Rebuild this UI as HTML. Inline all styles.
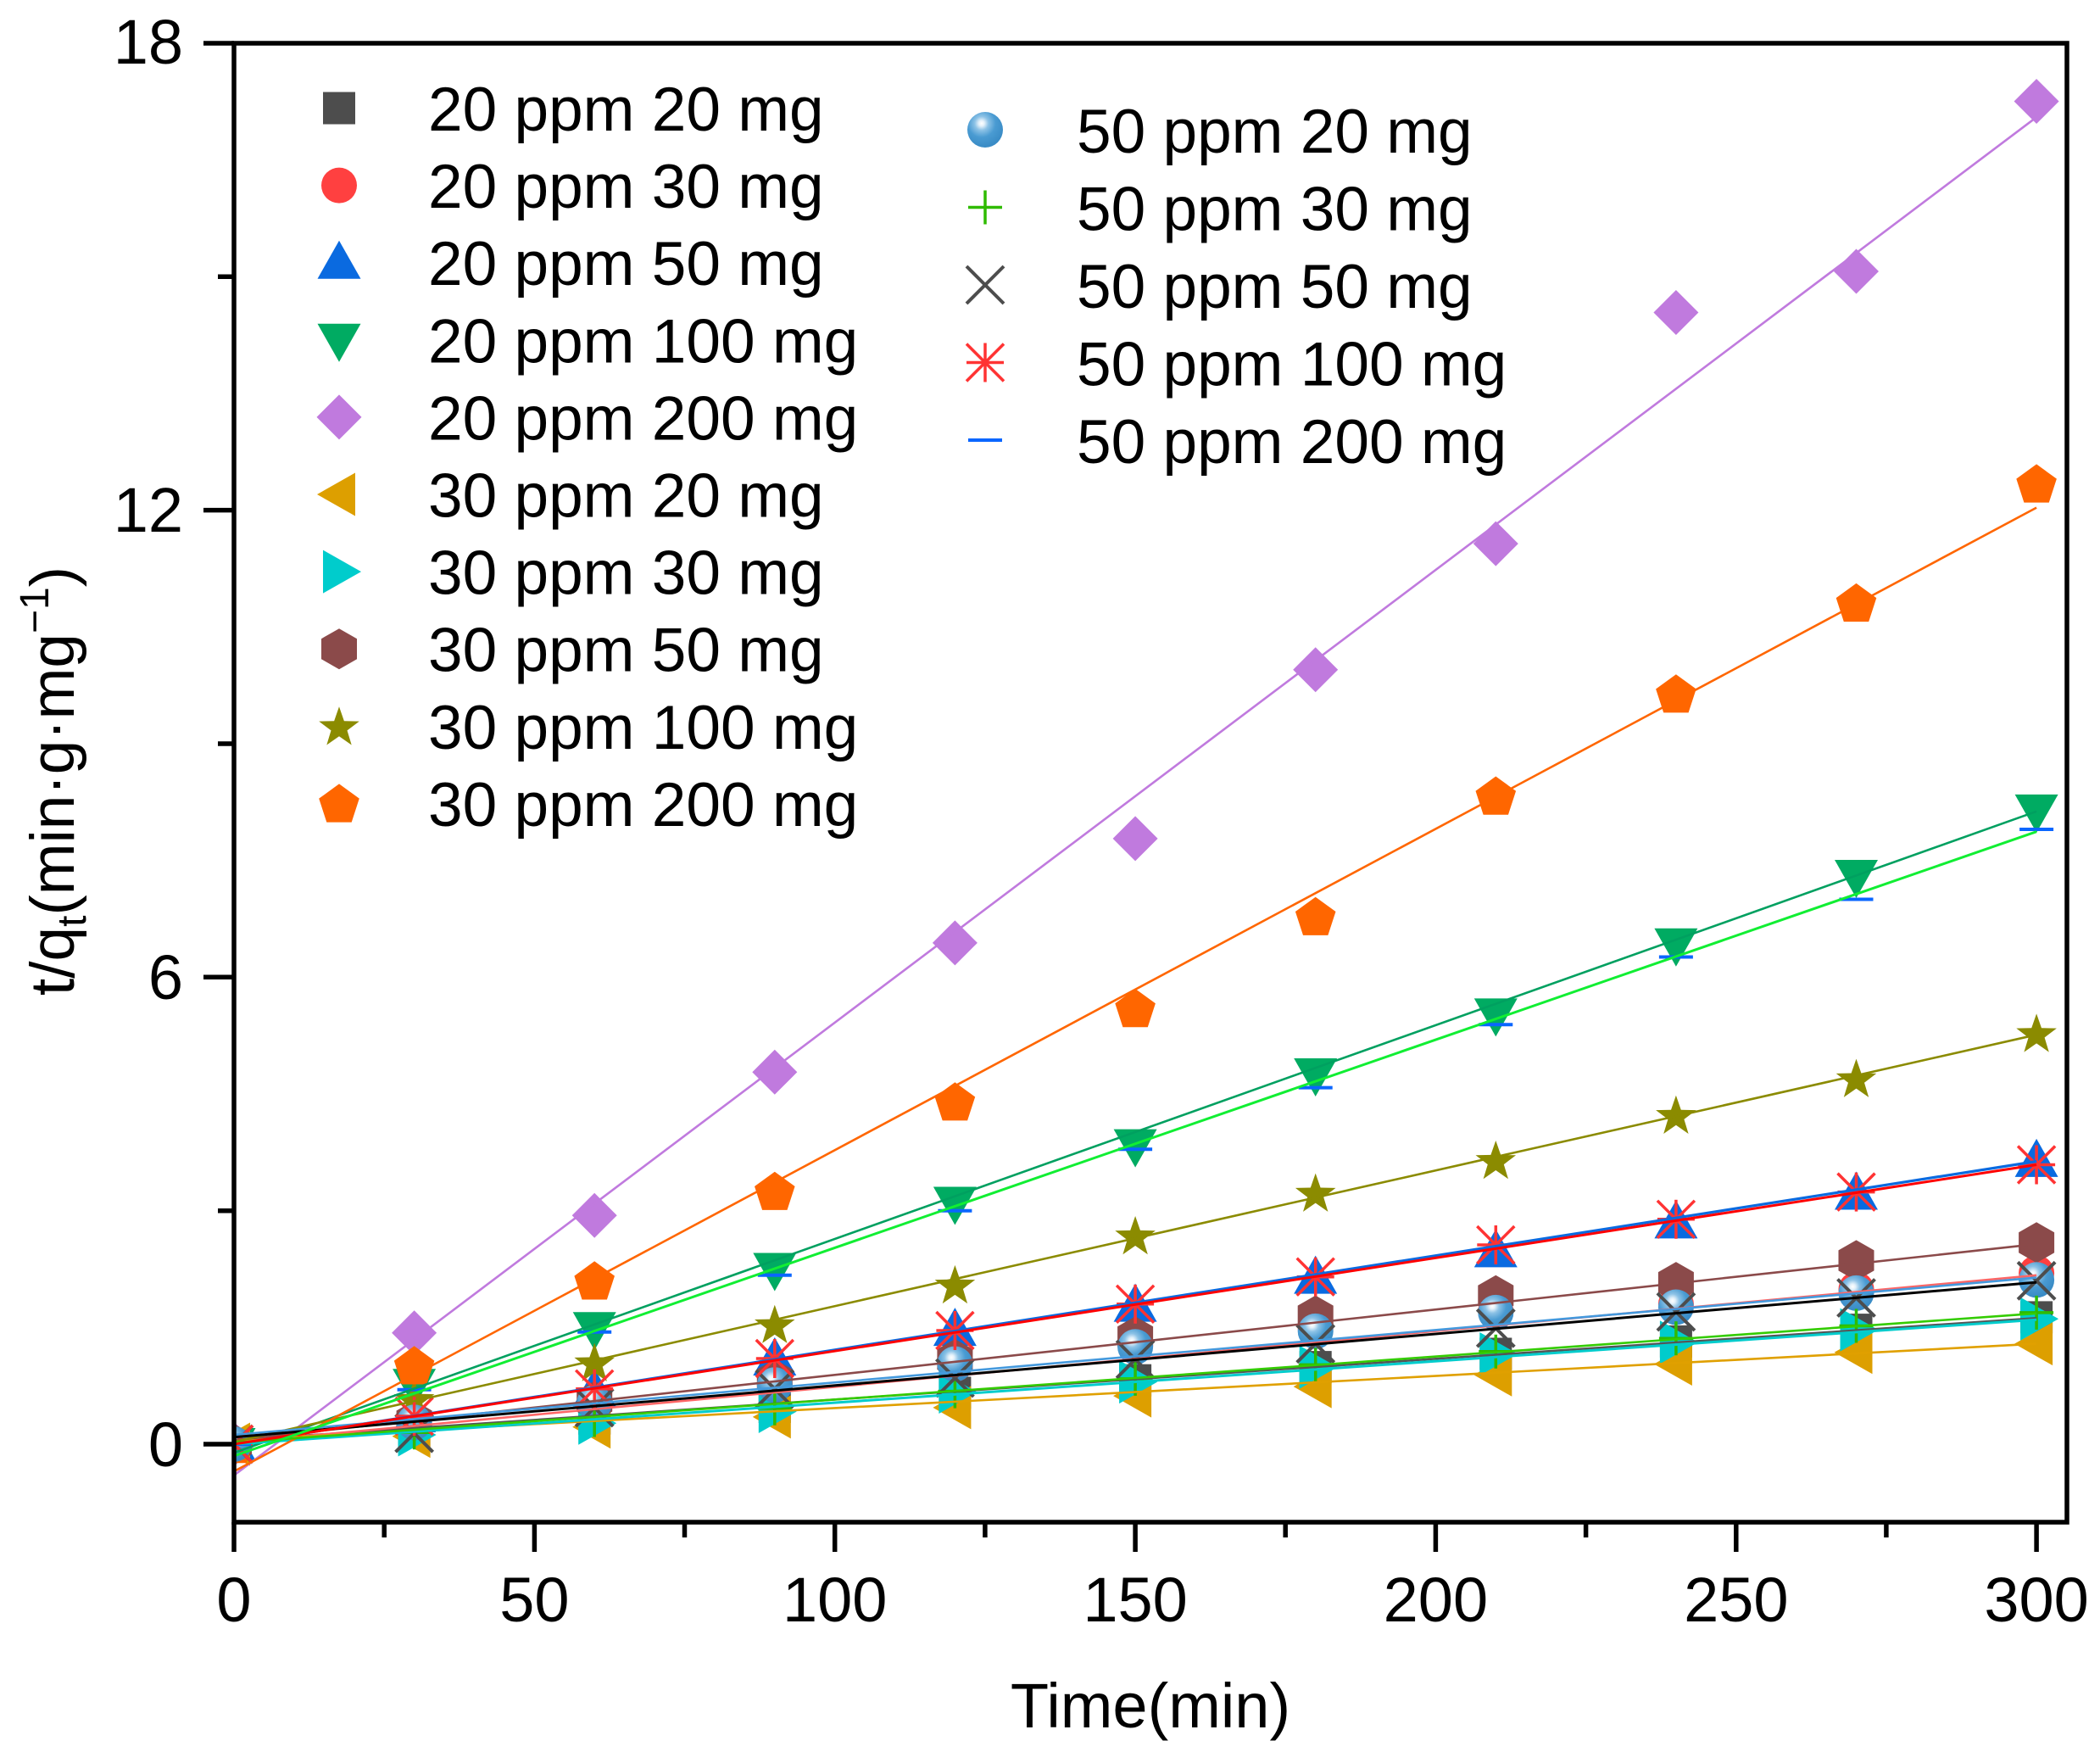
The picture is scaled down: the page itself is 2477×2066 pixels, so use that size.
<!DOCTYPE html>
<html>
<head>
<meta charset="utf-8">
<style>
html,body{margin:0;padding:0;background:#fff;}
svg{display:block;}
text{font-family:"Liberation Sans",Arial,sans-serif;fill:#000;}
</style>
</head>
<body>
<svg xmlns="http://www.w3.org/2000/svg" width="2477" height="2066" viewBox="0 0 2477 2066">
<defs>
  <clipPath id="plot"><rect x="276" y="51" width="2162" height="1744"/></clipPath>
  <radialGradient id="sph" cx="0.4" cy="0.32" r="0.65">
    <stop offset="0" stop-color="#ffffff"/>
    <stop offset="0.12" stop-color="#e4f1fa"/>
    <stop offset="0.3" stop-color="#8cc2e6"/>
    <stop offset="0.6" stop-color="#4a9bd2"/>
    <stop offset="1" stop-color="#3a8cc6"/>
  </radialGradient>
  <rect id="m1" x="-19" y="-19" width="38" height="38" fill="#4d4d4d"/>
  <circle id="m2" r="21" fill="#ff4040"/>
  <polygon id="m3" points="0,-26 25.5,19 -25.5,19" fill="#0a6ae0"/>
  <polygon id="m4" points="0,26 25.5,-19 -25.5,-19" fill="#00ab62"/>
  <polygon id="m5" points="0,-26.5 26.5,0 0,26.5 -26.5,0" fill="#c07ade"/>
  <polygon id="m6" points="-26,0 19,-25.5 19,25.5" fill="#dd9f00"/>
  <polygon id="m7" points="26,0 -19,-25.5 -19,25.5" fill="#00cccc"/>
  <polygon id="m8" points="0,-24 21,-12 21,12 0,24 -21,12 -21,-12" fill="#8b4a4a"/>
  <polygon id="m9" points="0,-25 5.88,-8.09 23.78,-7.73 9.51,3.09 14.69,20.23 0,10 -14.69,20.23 -9.51,3.09 -23.78,-7.73 -5.88,-8.09" fill="#8b8b00" transform="translate(0,2)"/>
  <polygon id="m10" points="0,-25 23.78,-7.73 14.69,20.23 -14.69,20.23 -23.78,-7.73" fill="#ff6600" transform="translate(0,2)"/>
  <circle id="m11" r="21" fill="url(#sph)"/>
  <g id="m12" stroke="#2fbb00" stroke-width="3.5"><line x1="-20" y1="0" x2="20" y2="0"/><line x1="0" y1="-20" x2="0" y2="20"/></g>
  <g id="m13" stroke="#4d4d4d" stroke-width="4"><line x1="-22" y1="-22" x2="22" y2="22"/><line x1="-22" y1="22" x2="22" y2="-22"/></g>
  <g id="m14" stroke="#ff3333" stroke-width="3.5"><line x1="-22" y1="-22" x2="22" y2="22"/><line x1="-22" y1="22" x2="22" y2="-22"/><line x1="0" y1="-23" x2="0" y2="23"/><line x1="-22" y1="0" x2="22" y2="0"/></g>
  <g id="m15" stroke="#0a66ff" stroke-width="4"><line x1="-20" y1="0" x2="20" y2="0"/></g>
</defs>

<rect width="2477" height="2066" fill="#fff"/>

<g clip-path="url(#plot)">
  <!-- S1 square -->
  <use href="#m1" x="276" y="1703"/><use href="#m1" x="488.6" y="1687.4"/><use href="#m1" x="701.2" y="1672.7"/><use href="#m1" x="913.8" y="1659"/><use href="#m1" x="1126.4" y="1642.4"/><use href="#m1" x="1339.1" y="1627.7"/><use href="#m1" x="1551.7" y="1612.1"/><use href="#m1" x="1764.3" y="1596.5"/><use href="#m1" x="1976.9" y="1581.9"/><use href="#m1" x="2189.5" y="1568.1"/><use href="#m1" x="2402.1" y="1553.4"/>
  <!-- S2 circle -->
  <use href="#m2" x="276" y="1703"/><use href="#m2" x="488.6" y="1675.5"/><use href="#m2" x="701.2" y="1652.5"/><use href="#m2" x="913.8" y="1631.4"/><use href="#m2" x="1126.4" y="1608.5"/><use href="#m2" x="1339.1" y="1586.4"/><use href="#m2" x="1551.7" y="1567.2"/><use href="#m2" x="1764.3" y="1546.1"/><use href="#m2" x="1976.9" y="1537.8"/><use href="#m2" x="2189.5" y="1520.4"/><use href="#m2" x="2402.1" y="1501.1"/>
  <!-- S3 triangle up -->
  <use href="#m3" x="276" y="1703"/><use href="#m3" x="488.6" y="1670"/><use href="#m3" x="701.2" y="1639.7"/><use href="#m3" x="913.8" y="1603"/><use href="#m3" x="1126.4" y="1568.1"/><use href="#m3" x="1339.1" y="1539.6"/><use href="#m3" x="1551.7" y="1506.6"/><use href="#m3" x="1764.3" y="1475.4"/><use href="#m3" x="1976.9" y="1441.4"/><use href="#m3" x="2189.5" y="1407.5"/><use href="#m3" x="2402.1" y="1368.9"/>
  <!-- S4 triangle down -->
  <use href="#m4" x="276" y="1703"/><use href="#m4" x="488.6" y="1633.2"/><use href="#m4" x="701.2" y="1566.2"/><use href="#m4" x="913.8" y="1496.5"/><use href="#m4" x="1126.4" y="1418.5"/><use href="#m4" x="1339.1" y="1350.6"/><use href="#m4" x="1551.7" y="1267"/><use href="#m4" x="1764.3" y="1196.4"/><use href="#m4" x="1976.9" y="1113.8"/><use href="#m4" x="2189.5" y="1033"/><use href="#m4" x="2402.1" y="955.9"/>
  <!-- S5 diamond -->
  <use href="#m5" x="276" y="1703"/><use href="#m5" x="488.6" y="1571.8"/><use href="#m5" x="701.2" y="1433.2"/><use href="#m5" x="913.8" y="1264.3"/><use href="#m5" x="1126.4" y="1111.9"/><use href="#m5" x="1339.1" y="988.9"/><use href="#m5" x="1551.7" y="789.8"/><use href="#m5" x="1764.3" y="641.1"/><use href="#m5" x="1976.9" y="368.5"/><use href="#m5" x="2189.5" y="320"/><use href="#m5" x="2402.1" y="119.5"/>
  <!-- S6 left triangle -->
  <use href="#m6" x="276" y="1703"/><use href="#m6" x="488.6" y="1693.8"/><use href="#m6" x="701.2" y="1682.8"/><use href="#m6" x="913.8" y="1670.9"/><use href="#m6" x="1126.4" y="1659.9"/><use href="#m6" x="1339.1" y="1646.1"/><use href="#m6" x="1551.7" y="1635.1"/><use href="#m6" x="1764.3" y="1621.3"/><use href="#m6" x="1976.9" y="1608.5"/><use href="#m6" x="2189.5" y="1594.7"/><use href="#m6" x="2402.1" y="1584.6"/>
  <!-- S7 right triangle -->
  <use href="#m7" x="276" y="1703"/><use href="#m7" x="488.6" y="1692"/><use href="#m7" x="701.2" y="1678.2"/><use href="#m7" x="913.8" y="1664.5"/><use href="#m7" x="1126.4" y="1641.5"/><use href="#m7" x="1339.1" y="1629.6"/><use href="#m7" x="1551.7" y="1612.1"/><use href="#m7" x="1764.3" y="1596.5"/><use href="#m7" x="1976.9" y="1582.8"/><use href="#m7" x="2189.5" y="1568.1"/><use href="#m7" x="2402.1" y="1555.2"/>
  <!-- S8 hexagon -->
  <use href="#m8" x="276" y="1703"/><use href="#m8" x="488.6" y="1675.5"/><use href="#m8" x="701.2" y="1652.5"/><use href="#m8" x="913.8" y="1626.8"/><use href="#m8" x="1126.4" y="1603"/><use href="#m8" x="1339.1" y="1576.3"/><use href="#m8" x="1551.7" y="1551.6"/><use href="#m8" x="1764.3" y="1527.7"/><use href="#m8" x="1976.9" y="1512.1"/><use href="#m8" x="2189.5" y="1486.4"/><use href="#m8" x="2402.1" y="1465.3"/>
  <!-- S9 star -->
  <use href="#m9" x="276" y="1703"/><use href="#m9" x="488.6" y="1649.8"/><use href="#m9" x="701.2" y="1606.6"/><use href="#m9" x="913.8" y="1561.7"/><use href="#m9" x="1126.4" y="1514.9"/><use href="#m9" x="1339.1" y="1457"/><use href="#m9" x="1551.7" y="1406.6"/><use href="#m9" x="1764.3" y="1368"/><use href="#m9" x="1976.9" y="1314.8"/><use href="#m9" x="2189.5" y="1271.6"/><use href="#m9" x="2402.1" y="1218.4"/>
  <!-- S10 pentagon -->
  <use href="#m10" x="276" y="1703"/><use href="#m10" x="488.6" y="1610.3"/><use href="#m10" x="701.2" y="1510.3"/><use href="#m10" x="913.8" y="1404.7"/><use href="#m10" x="1126.4" y="1299.2"/><use href="#m10" x="1339.1" y="1189"/><use href="#m10" x="1551.7" y="1080.7"/><use href="#m10" x="1764.3" y="938.5"/><use href="#m10" x="1976.9" y="818.2"/><use href="#m10" x="2189.5" y="710.9"/><use href="#m10" x="2402.1" y="570.4"/>
  <!-- S11 sphere -->
  <use href="#m11" x="276" y="1703"/><use href="#m11" x="488.6" y="1677.3"/><use href="#m11" x="701.2" y="1654.4"/><use href="#m11" x="913.8" y="1633.2"/><use href="#m11" x="1126.4" y="1608.5"/><use href="#m11" x="1339.1" y="1588.3"/><use href="#m11" x="1551.7" y="1569.9"/><use href="#m11" x="1764.3" y="1547.9"/><use href="#m11" x="1976.9" y="1541.5"/><use href="#m11" x="2189.5" y="1524.9"/><use href="#m11" x="2402.1" y="1509.3"/>
  <!-- S12 plus -->
  <use href="#m12" x="276" y="1703"/><use href="#m12" x="488.6" y="1689.2"/><use href="#m12" x="701.2" y="1674.5"/><use href="#m12" x="913.8" y="1660.8"/><use href="#m12" x="1126.4" y="1640.6"/><use href="#m12" x="1339.1" y="1625.9"/><use href="#m12" x="1551.7" y="1609.4"/><use href="#m12" x="1764.3" y="1593.8"/><use href="#m12" x="1976.9" y="1578.2"/><use href="#m12" x="2189.5" y="1563.5"/><use href="#m12" x="2402.1" y="1547.9"/>
  <!-- S13 X -->
  <use href="#m13" x="276" y="1703"/><use href="#m13" x="488.6" y="1690.2"/><use href="#m13" x="701.2" y="1659.9"/><use href="#m13" x="913.8" y="1637.8"/><use href="#m13" x="1126.4" y="1625"/><use href="#m13" x="1339.1" y="1603"/><use href="#m13" x="1551.7" y="1584.6"/><use href="#m13" x="1764.3" y="1566.2"/><use href="#m13" x="1976.9" y="1547"/><use href="#m13" x="2189.5" y="1530.5"/><use href="#m13" x="2402.1" y="1510.3"/>
  <!-- S14 asterisk -->
  <use href="#m14" x="276" y="1703"/><use href="#m14" x="488.6" y="1670"/><use href="#m14" x="701.2" y="1637.8"/><use href="#m14" x="913.8" y="1602"/><use href="#m14" x="1126.4" y="1569"/><use href="#m14" x="1339.1" y="1537.8"/><use href="#m14" x="1551.7" y="1505.7"/><use href="#m14" x="1764.3" y="1468"/><use href="#m14" x="1976.9" y="1437.8"/><use href="#m14" x="2189.5" y="1405.6"/><use href="#m14" x="2402.1" y="1373.5"/>
  <!-- S15 dash -->
  <use href="#m15" x="276" y="1703"/><use href="#m15" x="488.6" y="1638.8"/><use href="#m15" x="701.2" y="1570.8"/><use href="#m15" x="913.8" y="1503.8"/><use href="#m15" x="1126.4" y="1427.7"/><use href="#m15" x="1339.1" y="1355.2"/><use href="#m15" x="1551.7" y="1282.6"/><use href="#m15" x="1764.3" y="1208.3"/><use href="#m15" x="1976.9" y="1128.5"/><use href="#m15" x="2189.5" y="1060.5"/><use href="#m15" x="2402.1" y="978"/>

  <!-- fit lines -->
  <g fill="none" stroke-width="2.6">
    <line x1="276" y1="1698.4" x2="2402.1" y2="1554.3" stroke="#555555"/>
    <line x1="276" y1="1701.2" x2="2402.1" y2="1503.8" stroke="#ff6666"/>
    <line x1="276" y1="1703" x2="2402.1" y2="1369.5" stroke="#0a6ae0" stroke-width="3.2"/>
    <line x1="276" y1="1713.1" x2="2402.1" y2="956.8" stroke="#00a060"/>
    <line x1="276" y1="1739.7" x2="2402.1" y2="138.2" stroke="#c07ade"/>
    <line x1="276" y1="1698.4" x2="2402.1" y2="1584.6" stroke="#e0a000"/>
    <line x1="276" y1="1703" x2="2402.1" y2="1556.2" stroke="#00cccc" stroke-width="3"/>
    <line x1="276" y1="1698.4" x2="2402.1" y2="1467.1" stroke="#8b4a4a"/>
    <line x1="276" y1="1700.2" x2="2402.1" y2="1220.2" stroke="#8b8b00"/>
    <line x1="276" y1="1735.1" x2="2402.1" y2="598.6" stroke="#ff6600"/>
    <line x1="276" y1="1692" x2="2402.1" y2="1506.6" stroke="#4499dd"/>
    <line x1="276" y1="1701.2" x2="2402.1" y2="1548.8" stroke="#33cc00"/>
    <line x1="276" y1="1694.7" x2="2402.1" y2="1512.1" stroke="#000000" stroke-width="3"/>
    <line x1="276" y1="1703" x2="2402.1" y2="1373.5" stroke="#ff0000" stroke-width="3"/>
    <line x1="276" y1="1716.8" x2="2402.1" y2="980.7" stroke="#11ee33" stroke-width="3"/>
  </g>
</g>

<!-- axes frame -->
<rect x="276" y="51" width="2162" height="1744" fill="none" stroke="#000" stroke-width="5.5"/>
<g stroke="#000" stroke-width="5.5">
  <line x1="240" y1="1703" x2="276" y2="1703"/>
  <line x1="240" y1="1152.3" x2="276" y2="1152.3"/>
  <line x1="240" y1="601.6" x2="276" y2="601.6"/>
  <line x1="240" y1="51" x2="276" y2="51"/>
  <line x1="257" y1="1427.7" x2="276" y2="1427.7"/>
  <line x1="257" y1="877" x2="276" y2="877"/>
  <line x1="257" y1="326.3" x2="276" y2="326.3"/>

  <line x1="276" y1="1795" x2="276" y2="1830"/>
  <line x1="630.4" y1="1795" x2="630.4" y2="1830"/>
  <line x1="984.7" y1="1795" x2="984.7" y2="1830"/>
  <line x1="1339.1" y1="1795" x2="1339.1" y2="1830"/>
  <line x1="1693.4" y1="1795" x2="1693.4" y2="1830"/>
  <line x1="2047.8" y1="1795" x2="2047.8" y2="1830"/>
  <line x1="2402.1" y1="1795" x2="2402.1" y2="1830"/>
  <line x1="453.2" y1="1795" x2="453.2" y2="1813"/>
  <line x1="807.5" y1="1795" x2="807.5" y2="1813"/>
  <line x1="1161.9" y1="1795" x2="1161.9" y2="1813"/>
  <line x1="1516.2" y1="1795" x2="1516.2" y2="1813"/>
  <line x1="1870.6" y1="1795" x2="1870.6" y2="1813"/>
  <line x1="2224.9" y1="1795" x2="2224.9" y2="1813"/>
</g>

<!-- tick labels -->
<g font-size="74" text-anchor="end">
  <text x="216" y="1729">0</text>
  <text x="216" y="1178">6</text>
  <text x="216" y="627">12</text>
  <text x="216" y="75">18</text>
</g>
<g font-size="74" text-anchor="middle">
  <text x="276" y="1912">0</text>
  <text x="630.4" y="1912">50</text>
  <text x="984.7" y="1912">100</text>
  <text x="1339.1" y="1912">150</text>
  <text x="1693.4" y="1912">200</text>
  <text x="2047.8" y="1912">250</text>
  <text x="2402.1" y="1912">300</text>
</g>

<!-- axis titles -->
<text x="1357" y="2037" font-size="74" text-anchor="middle">Time(min)</text>
<text transform="translate(87,921) rotate(-90)" font-size="73" text-anchor="middle">t/q<tspan font-size="48" dy="14">t</tspan><tspan dy="-14">(min·g·mg</tspan><tspan font-size="48" dy="-30">−1</tspan><tspan dy="30">)</tspan></text>

<!-- legend left -->
<use href="#m1" x="400" y="127.5"/>
<use href="#m2" x="400" y="218.6"/>
<use href="#m3" x="400" y="309.7"/>
<use href="#m4" x="400" y="400.8"/>
<use href="#m5" x="400" y="491.9"/>
<use href="#m6" x="400" y="583"/>
<use href="#m7" x="400" y="674.1"/>
<use href="#m8" x="400" y="765.2"/>
<use href="#m9" x="400" y="856.3"/>
<use href="#m10" x="400" y="947.4"/>
<g font-size="73">
  <text x="505" y="154">20 ppm 20 mg</text>
  <text x="505" y="245.1">20 ppm 30 mg</text>
  <text x="505" y="336.2">20 ppm 50 mg</text>
  <text x="505" y="427.3">20 ppm 100 mg</text>
  <text x="505" y="518.4">20 ppm 200 mg</text>
  <text x="505" y="609.5">30 ppm 20 mg</text>
  <text x="505" y="700.6">30 ppm 30 mg</text>
  <text x="505" y="791.7">30 ppm 50 mg</text>
  <text x="505" y="882.8">30 ppm 100 mg</text>
  <text x="505" y="973.9">30 ppm 200 mg</text>
</g>

<!-- legend right -->
<use href="#m11" x="1162" y="153"/>
<use href="#m12" x="1162" y="244.5"/>
<use href="#m13" x="1162" y="336"/>
<use href="#m14" x="1162" y="427.5"/>
<use href="#m15" x="1162" y="519"/>
<g font-size="73">
  <text x="1270" y="180">50 ppm 20 mg</text>
  <text x="1270" y="271.5">50 ppm 30 mg</text>
  <text x="1270" y="363">50 ppm 50 mg</text>
  <text x="1270" y="454.5">50 ppm 100 mg</text>
  <text x="1270" y="546">50 ppm 200 mg</text>
</g>
</svg>
</body>
</html>
